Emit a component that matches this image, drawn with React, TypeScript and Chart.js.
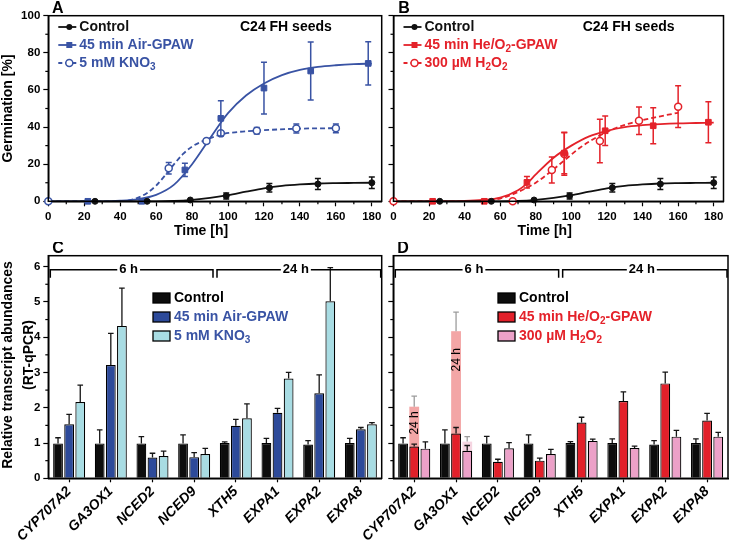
import React, { useEffect, useRef } from 'react';
import { Chart, registerables } from 'chart.js';

Chart.register(...registerables);

const FONT = "'Liberation Sans', Arial, Helvetica, sans-serif";
const INK = '#111111';
const BLUE = '#3953a4';
const RED = '#e4222a';
const BAR_BLACK = '#0d0d0d';
const BAR_BLUE = '#2d4a9a';
const BAR_CYAN = '#a8dce3';
const BAR_RED = '#e2202a';
const BAR_PINK = '#eca1c8';

// ---------------- Panels A / B : germination time course ----------------
const controlTime = [26, 55, 79, 99, 123, 150, 180];
const controlGerm = [0, 0, 0.7, 2.9, 7.3, 9.3, 10.0];
const controlErr = [0, 0, 0, 1.6, 2.3, 3.0, 3.1];
const controlFitTime = [0, 20, 40, 60, 70, 80, 90, 100, 110, 120, 130, 140, 150, 160, 170, 180];
const controlFitGerm = [0, 0, 0, 0, 0.2, 0.8, 1.8, 3.3, 5.2, 7.0, 8.3, 9.1, 9.6, 9.8, 9.9, 10.0];

const airTime = [22, 52, 76, 96, 120, 146, 178];
const airGerm = [0, 0, 16.9, 44.7, 61.0, 70.2, 74.3];
const airErr = [0, 0, 3.6, 9.5, 13.9, 15.6, 11.7];
const airFitTime = [0, 20, 30, 40, 50, 60, 70, 80, 90, 100, 110, 120, 130, 140, 150, 160, 170, 180];
const airFitGerm = [0, 0, 0, 0.3, 1.2, 3.5, 9, 20, 34, 47.5, 57, 63.5, 68, 70.8, 72.4, 73.3, 73.9, 74.2];

const kno3Time = [0, 67, 88, 96, 116, 138, 160];
const kno3Germ = [0, 17.8, 32.5, 36.6, 38.0, 39.2, 39.3];
const kno3Err = [0, 3.1, 1.0, 1.0, 1.8, 2.4, 2.3];
const kno3FitTime = [0, 20, 40, 45, 50, 55, 60, 65, 70, 75, 80, 85, 90, 96, 105, 116, 138, 160];
const kno3FitGerm = [0, 0, 0, 0.5, 2, 4.5, 8.5, 14, 20, 25.5, 29.5, 32, 34, 36, 37.3, 38.1, 39.1, 39.4];

const heTime = [22, 51, 75, 96, 119, 146, 177];
const heGerm = [0, 0, 10.2, 26.0, 38.0, 40.7, 42.6];
const heErr = [0, 0, 3.1, 11.2, 8.0, 9.7, 11.0];
const heFitTime = [0, 20, 40, 50, 60, 70, 75, 80, 90, 100, 110, 120, 130, 140, 150, 160, 170, 180];
const heFitGerm = [0, 0, 0.2, 0.7, 2, 6, 9.5, 14.5, 23.5, 30, 35, 38, 40, 41, 41.6, 42, 42.2, 42.4];

const h2o2Time = [0, 67, 89, 96, 116, 138, 160];
const h2o2Germ = [0, 0, 16.9, 25.5, 32.5, 43.4, 51.0];
const h2o2Err = [0, 0, 7.0, 11.4, 11.7, 7.4, 11.3];
const h2o2FitTime = [0, 40, 50, 60, 70, 80, 89, 96, 105, 116, 125, 138, 150, 160];
const h2o2FitGerm = [0, 0, 0.3, 1.5, 5, 10, 16.5, 22, 29, 35.5, 39.5, 43.3, 45.8, 47.7];

const labelsA = ['Control', '45 min Air-GPAW', '5 mM KNO_3'];
const labelsB = ['Control', '45 min He/O_2-GPAW', '300 µM H_2O_2'];
const seedText = 'C24 FH seeds';
const timeTitle = 'Time [h]';
const germTitle = 'Germination [%]';

// ---------------- Panels C / D : transcript abundances ----------------
const genes = ['CYP707A2', 'GA3OX1', 'NCED2', 'NCED9', 'XTH5', 'EXPA1', 'EXPA2', 'EXPA8'];
const cControl = [0.99, 0.99, 0.99, 0.99, 1.0, 1.0, 0.96, 1.0];
const cControlErr = [0.16, 0.38, 0.19, 0.24, 0.03, 0.13, 0.11, 0.13];
const cAir = [1.53, 3.21, 0.59, 0.6, 1.49, 1.86, 2.41, 1.39];
const cAirErr = [0.28, 0.9, 0.12, 0.13, 0.18, 0.12, 0.52, 0.05];
const cKno3 = [2.16, 4.32, 0.63, 0.69, 1.7, 2.83, 5.02, 1.53];
const cKno3Err = [0.48, 1.07, 0.14, 0.16, 0.41, 0.17, 0.95, 0.05];

const dControl = [0.99, 0.99, 0.99, 0.99, 1.0, 1.0, 0.96, 1.0];
const dControlErr = [0.16, 0.38, 0.2, 0.24, 0.04, 0.12, 0.11, 0.12];
const dHe = [0.9, 1.27, 0.47, 0.5, 1.58, 2.19, 2.69, 1.64];
const dHeErr = [0.07, 0.17, 0.07, 0.07, 0.15, 0.26, 0.32, 0.2];
const dH2o2 = [0.84, 0.78, 0.85, 0.69, 1.06, 0.86, 1.18, 1.18];
const dH2o2Err = [0.19, 0.15, 0.16, 0.13, 0.05, 0.05, 0.18, 0.12];
// 24 h values shown as pale bars behind the 6 h bars
const dHe24 = [2.03, 4.17, null, null, null, null, null, null];
const dHe24Err = [0.3, 0.54, null, null, null, null, null, null];
const dH2o224 = [null, 1.04, null, null, null, null, null, null];
const dH2o224Err = [null, 0.14, null, null, null, null, null, null];

const labelsC = ['Control', '45 min Air-GPAW', '5 mM KNO_3'];
const labelsD = ['Control', '45 min He/O_2-GPAW', '300 µM H_2O_2'];
const periodLabels = ['6 h', '24 h'];
const tag24 = '24 h';
const abundTitle = ['Relative transcript abundances', '(RT-qPCR)'];

// ---------------- helpers ----------------
type Seg = { t: string; sub: boolean };
function rich(s: string): Seg[] {
  const out: Seg[] = [];
  let buf = '';
  for (let i = 0; i < s.length; i++) {
    if (s[i] === '_' && i + 1 < s.length) {
      if (buf) out.push({ t: buf, sub: false });
      buf = '';
      out.push({ t: s[i + 1], sub: true });
      i++;
    } else buf += s[i];
  }
  if (buf) out.push({ t: buf, sub: false });
  return out;
}

function drawRich(ctx: CanvasRenderingContext2D, s: string, x: number, y: number, size: number, color: string) {
  let cx = x;
  ctx.save();
  ctx.fillStyle = color;
  ctx.textAlign = 'left';
  ctx.textBaseline = 'middle';
  for (const g of rich(s)) {
    const fs = g.sub ? Math.round(size * 0.72) : size;
    ctx.font = `bold ${fs}px ${FONT}`;
    ctx.fillText(g.t, cx, g.sub ? y + size * 0.3 : y);
    cx += ctx.measureText(g.t).width;
  }
  ctx.restore();
}

function drawText(
  ctx: CanvasRenderingContext2D,
  s: string,
  x: number,
  y: number,
  o: { size?: number; weight?: string; color?: string; align?: CanvasTextAlign; rot?: number } = {}
) {
  ctx.save();
  ctx.translate(x, y);
  if (o.rot) ctx.rotate(o.rot);
  ctx.font = `${o.weight ?? 'bold'} ${o.size ?? 14}px ${FONT}`;
  ctx.fillStyle = o.color ?? '#000';
  ctx.textAlign = o.align ?? 'left';
  ctx.textBaseline = 'middle';
  ctx.fillText(s, 0, 0);
  ctx.restore();
}

function pts(xs: number[], ys: number[]) {
  return xs.map((x, i) => ({ x, y: ys[i] }));
}

const tickFont = { family: FONT, size: 11.5, weight: 'bold' as const };

function framePlugin(minorX: number | null, majorX: number, minorY: number, majorY: number) {
  return {
    id: 'frameMinor',
    afterDraw(chart: any) {
      const { ctx, chartArea: a } = chart;
      ctx.save();
      ctx.strokeStyle = '#000';
      ctx.lineWidth = 1.5;
      ctx.strokeRect(a.left, a.top, a.right - a.left, a.bottom - a.top);
      ctx.lineWidth = 1.2;
      const isMajor = (v: number, m: number) => Math.abs(v / m - Math.round(v / m)) < 1e-6;
      if (minorX) {
        const s = chart.scales.x;
        for (let v = s.min + minorX; v <= s.max + 1e-9; v += minorX) {
          if (isMajor(v, majorX)) continue;
          const px = s.getPixelForValue(v);
          ctx.beginPath();
          ctx.moveTo(px, a.bottom);
          ctx.lineTo(px, a.bottom + 3);
          ctx.stroke();
        }
      }
      const sy = chart.scales.y;
      for (let v = sy.min + minorY; v <= sy.max + 1e-9; v += minorY) {
        if (isMajor(v, majorY)) continue;
        const py = sy.getPixelForValue(v);
        ctx.beginPath();
        ctx.moveTo(a.left, py);
        ctx.lineTo(a.left - 3, py);
        ctx.stroke();
      }
      ctx.restore();
    },
  };
}

const xyErrorPlugin = {
  id: 'xyErrors',
  beforeDatasetDraw(chart: any, args: any) {
    const ds: any = chart.data.datasets[args.index];
    if (!ds.errors) return;
    const ys = chart.scales.y;
    const ctx = chart.ctx;
    ctx.save();
    ctx.strokeStyle = ds.borderColor;
    ctx.lineWidth = 1.5;
    args.meta.data.forEach((el: any, i: number) => {
      const e = ds.errors[i];
      if (!e) return;
      const v = ds.data[i].y;
      const t = ys.getPixelForValue(v + e);
      const b = ys.getPixelForValue(v - e);
      ctx.beginPath();
      ctx.moveTo(el.x, t);
      ctx.lineTo(el.x, b);
      ctx.moveTo(el.x - 3, t);
      ctx.lineTo(el.x + 3, t);
      ctx.moveTo(el.x - 3, b);
      ctx.lineTo(el.x + 3, b);
      ctx.stroke();
    });
    ctx.restore();
  },
};

function drawLineKey(ctx: CanvasRenderingContext2D, x0: number, y: number, color: string, kind: string, dashed: boolean) {
  ctx.save();
  ctx.strokeStyle = color;
  ctx.lineWidth = 1.8;
  if (dashed) ctx.setLineDash([4, 3]);
  ctx.beginPath();
  ctx.moveTo(x0 + 10, y);
  ctx.lineTo(x0 + 28, y);
  ctx.stroke();
  ctx.setLineDash([]);
  const mx = x0 + 21;
  if (kind === 'dot') {
    ctx.fillStyle = color;
    ctx.beginPath();
    ctx.arc(mx, y, 3, 0, Math.PI * 2);
    ctx.fill();
  } else if (kind === 'square') {
    ctx.fillStyle = color;
    ctx.fillRect(mx - 3, y - 3, 6, 6);
  } else {
    ctx.fillStyle = '#fff';
    ctx.lineWidth = 1.5;
    ctx.beginPath();
    ctx.arc(mx, y, 3.5, 0, Math.PI * 2);
    ctx.fill();
    ctx.stroke();
  }
  ctx.restore();
}

function lineConfig(panel: 'A' | 'B') {
  const isA = panel === 'A';
  const col = isA ? BLUE : RED;
  const labels = isA ? labelsA : labelsB;
  const tT = isA ? airTime : heTime;
  const tG = isA ? airGerm : heGerm;
  const tE = isA ? airErr : heErr;
  const tFT = isA ? airFitTime : heFitTime;
  const tFG = isA ? airFitGerm : heFitGerm;
  const rT = isA ? kno3Time : h2o2Time;
  const rG = isA ? kno3Germ : h2o2Germ;
  const rE = isA ? kno3Err : h2o2Err;
  const rFT = isA ? kno3FitTime : h2o2FitTime;
  const rFG = isA ? kno3FitGerm : h2o2FitGerm;
  const yWidth = isA ? 48.3 : 5.3;

  const decor = {
    id: 'decorLine',
    afterDraw(chart: any) {
      const { ctx, chartArea: a } = chart;
      drawText(ctx, panel, isA ? 52 : 10.3, 8.5, { size: 16 });
      drawText(ctx, timeTitle, chart.scales.x.getPixelForValue(85), 231.5, { size: 14, align: 'center' });
      if (isA) drawText(ctx, germTitle, 8, 108.5, { size: 14, align: 'center', rot: -Math.PI / 2 });
      drawText(ctx, seedText, isA ? 240 : 194.7, 27, { size: 14 });
      const kinds = ['dot', 'square', 'open'];
      labels.forEach((lb, i) => {
        const y = 27 + i * 18;
        const c = i === 0 ? INK : col;
        drawLineKey(ctx, a.left, y, c, kinds[i], i === 2);
        drawRich(ctx, lb, a.left + 31, y, 14, c);
      });
    },
  };

  const fitBase = { showLine: true, pointRadius: 0, borderWidth: 1.8, cubicInterpolationMode: 'monotone', fill: false, order: 1 };
  return {
    type: 'scatter',
    data: {
      datasets: [
        { label: labels[0], data: pts(controlTime, controlGerm), errors: controlErr, borderColor: INK, backgroundColor: INK, pointStyle: 'circle', pointRadius: 3, borderWidth: 1, order: 0, clip: false },
        { label: labels[1], data: pts(tT, tG), errors: tE, borderColor: col, backgroundColor: col, pointStyle: 'rect', pointRadius: 4, borderWidth: 1, order: 0, clip: false },
        { label: labels[2], data: pts(rT, rG), errors: rE, borderColor: col, backgroundColor: '#ffffff', pointStyle: 'circle', pointRadius: 3.5, borderWidth: 1.5, order: 0, clip: false },
        { ...fitBase, data: pts(controlFitTime, controlFitGerm), borderColor: INK },
        { ...fitBase, data: pts(tFT, tFG), borderColor: col },
        { ...fitBase, data: pts(rFT, rFG), borderColor: col, borderDash: [5, 3] },
      ],
    },
    options: {
      responsive: false,
      animation: false,
      devicePixelRatio: 1,
      events: [],
      layout: { padding: { left: 0, right: isA ? 6.3 : 1.4, top: 15.7, bottom: 0 } },
      plugins: { legend: { display: false }, tooltip: { enabled: false } },
      scales: {
        x: {
          type: 'linear',
          min: 0,
          max: 185.5,
          ticks: { stepSize: 20, includeBounds: false, font: tickFont, color: '#000', padding: 4, maxRotation: 0, autoSkip: false },
          grid: { drawOnChartArea: false, drawTicks: true, tickLength: 5, color: '#000', tickWidth: 1.2 },
          border: { color: '#000', width: 1.5 },
          afterFit: (s: any) => {
            s.height = 242 - 201.3;
            s.paddingLeft = 0;
            s.paddingRight = 0;
          },
        },
        y: {
          type: 'linear',
          min: 0,
          max: 100,
          ticks: { stepSize: 20, font: tickFont, color: '#000', padding: 3, callback: (v: any) => (isA ? String(v) : '') },
          grid: { drawOnChartArea: false, drawTicks: true, tickLength: 5, color: '#000', tickWidth: 1.2 },
          border: { color: '#000', width: 1.5 },
          afterFit: (s: any) => {
            s.width = yWidth;
            s.paddingTop = 0;
            s.paddingBottom = 0;
          },
        },
      },
    },
    plugins: [framePlugin(10, 20, 10, 20), xyErrorPlugin, decor],
  };
}

function barConfig(panel: 'C' | 'D', canvasLeft: number) {
  const isC = panel === 'C';
  const labels = isC ? labelsC : labelsD;
  const sets = isC
    ? [
        { v: cControl, e: cControlErr, c: BAR_BLACK },
        { v: cAir, e: cAirErr, c: BAR_BLUE },
        { v: cKno3, e: cKno3Err, c: BAR_CYAN },
      ]
    : [
        { v: dControl, e: dControlErr, c: BAR_BLACK },
        { v: dHe, e: dHeErr, c: BAR_RED },
        { v: dH2o2, e: dH2o2Err, c: BAR_PINK },
      ];
  const textCol = isC ? BLUE : RED;
  const plotLeft = isC ? 48.3 : 393.3;

  const overlays = isC
    ? []
    : [
        { ds: 1, v: dHe24, e: dHe24Err, fill: 'rgba(239,132,132,0.72)', tagAt: [1.57, 3.36] },
        { ds: 2, v: dH2o224, e: dH2o224Err, fill: 'rgba(238,185,205,0.6)', tagAt: null as any },
      ];

  const overlayPlugin = {
    id: 'overlay24',
    beforeDatasetsDraw(chart: any) {
      const ctx = chart.ctx;
      const ys = chart.scales.y;
      overlays.forEach((o) => {
        const meta = chart.getDatasetMeta(o.ds);
        meta.data.forEach((el: any, i: number) => {
          const v = o.v[i];
          if (v == null) return;
          const top = ys.getPixelForValue(v);
          const base = ys.getPixelForValue(0);
          ctx.save();
          ctx.fillStyle = o.fill;
          ctx.fillRect(el.x - el.width / 2, top, el.width, base - top);
          const e = o.e[i];
          if (e) {
            const et = ys.getPixelForValue(v + e);
            ctx.strokeStyle = '#9c9c9c';
            ctx.lineWidth = 1.3;
            ctx.beginPath();
            ctx.moveTo(el.x, top);
            ctx.lineTo(el.x, et);
            ctx.moveTo(el.x - 2.8, et);
            ctx.lineTo(el.x + 2.8, et);
            ctx.stroke();
          }
          ctx.restore();
        });
      });
    },
    afterDatasetsDraw(chart: any) {
      const ctx = chart.ctx;
      const ys = chart.scales.y;
      overlays.forEach((o) => {
        if (!o.tagAt) return;
        const meta = chart.getDatasetMeta(o.ds);
        meta.data.forEach((el: any, i: number) => {
          if (o.v[i] == null || o.tagAt[i] == null) return;
          drawText(ctx, tag24, el.x + 0.5, ys.getPixelForValue(o.tagAt[i]), { size: 12, weight: 'normal', align: 'center', rot: -Math.PI / 2 });
        });
      });
    },
  };

  const barErrorPlugin = {
    id: 'barErrors',
    afterDatasetsDraw(chart: any) {
      const ctx = chart.ctx;
      const ys = chart.scales.y;
      chart.data.datasets.forEach((ds: any, di: number) => {
        if (!ds.errors) return;
        const meta = chart.getDatasetMeta(di);
        meta.data.forEach((el: any, i: number) => {
          const v = ds.data[i];
          const e = ds.errors[i];
          if (v == null || !e) return;
          const t = ys.getPixelForValue(v + e);
          ctx.save();
          ctx.strokeStyle = '#151515';
          ctx.lineWidth = 1.3;
          ctx.beginPath();
          ctx.moveTo(el.x, el.y);
          ctx.lineTo(el.x, t);
          ctx.moveTo(el.x - 2.8, t);
          ctx.lineTo(el.x + 2.8, t);
          ctx.stroke();
          ctx.restore();
        });
      });
    },
  };

  const decor = {
    id: 'decorBar',
    afterDraw(chart: any) {
      const { ctx, chartArea: a } = chart;
      drawText(ctx, panel, a.left + 4, 7, { size: 16 });
      if (isC) {
        drawText(ctx, abundTitle[0], 8.5, 123, { size: 14, align: 'center', rot: -Math.PI / 2 });
        drawText(ctx, abundTitle[1], 29, 113, { size: 14, align: 'center', rot: -Math.PI / 2 });
      }
      // brackets for sampling time
      const n = genes.length;
      const cw = (a.right - a.left) / n;
      const mid = a.left + (n / 2) * cw;
      const y = a.top + 14;
      const groups = [
        { lb: periodLabels[0], from: a.left + 2, to: mid - 2 },
        { lb: periodLabels[1], from: mid + 2, to: a.right - 1 },
      ];
      ctx.save();
      ctx.strokeStyle = '#000';
      ctx.lineWidth = 1.5;
      ctx.font = `bold 13px ${FONT}`;
      groups.forEach((g) => {
        const cx = (g.from + g.to) / 2 - 3;
        const w = ctx.measureText(g.lb).width;
        ctx.beginPath();
        ctx.moveTo(g.from, y + 8);
        ctx.lineTo(g.from, y);
        ctx.lineTo(cx - w / 2 - 2, y);
        ctx.moveTo(cx + w / 2 + 2, y);
        ctx.lineTo(g.to, y);
        ctx.lineTo(g.to, y + 8);
        ctx.stroke();
        drawText(ctx, g.lb, cx, y, { size: 13, align: 'center' });
      });
      ctx.restore();
      // legend
      const sx = a.left + 104.7;
      labels.forEach((lb, i) => {
        const ry = 56 + i * 19;
        ctx.save();
        ctx.fillStyle = sets[i].c;
        ctx.fillRect(sx, ry - 5, 17, 10);
        ctx.strokeStyle = '#000';
        ctx.lineWidth = 1.3;
        ctx.strokeRect(sx, ry - 5, 17, 10);
        ctx.restore();
        drawRich(ctx, lb, sx + 21, ry, 14, i === 0 ? '#000' : textCol);
      });
    },
  };

  return {
    type: 'bar',
    data: {
      labels: genes,
      datasets: sets.map((s, i) => ({
        label: labels[i],
        data: s.v,
        errors: s.e,
        backgroundColor: s.c,
        borderColor: '#000',
        borderWidth: 1.2,
        categoryPercentage: 0.8,
        barPercentage: 0.88,
      })),
    },
    options: {
      responsive: false,
      animation: false,
      devicePixelRatio: 1,
      events: [],
      layout: { padding: { left: 0, right: isC ? 6.3 : 1, top: 13.7, bottom: 0 } },
      plugins: { legend: { display: false }, tooltip: { enabled: false } },
      scales: {
        x: {
          grid: { offset: false, drawOnChartArea: false, drawTicks: true, tickLength: 4, color: '#000', tickWidth: 1.2 },
          border: { color: '#000', width: 1.5 },
          ticks: {
            font: { family: FONT, size: 14, weight: 'bold', style: 'italic' },
            color: '#000',
            minRotation: 45,
            maxRotation: 45,
            autoSkip: false,
            padding: 1,
          },
          afterFit: (s: any) => {
            s.height = 63.7;
            s.paddingLeft = 0;
            s.paddingRight = 0;
          },
        },
        y: {
          min: 0,
          max: 6.31,
          ticks: { stepSize: 1, includeBounds: false, font: tickFont, color: '#000', padding: 3, callback: (v: any) => (isC ? String(v) : '') },
          grid: { drawOnChartArea: false, drawTicks: true, tickLength: 5, color: '#000', tickWidth: 1.2 },
          border: { color: '#000', width: 1.5 },
          afterFit: (s: any) => {
            s.width = plotLeft - canvasLeft;
            s.paddingTop = 0;
            s.paddingBottom = 0;
          },
        },
      },
    },
    plugins: [overlayPlugin, framePlugin(null, 1, 0.5, 1), barErrorPlugin, decor],
  };
}

function ChartCanvas({ make, left, top, width, height }: { make: () => any; left: number; top: number; width: number; height: number }) {
  const ref = useRef<HTMLCanvasElement>(null);
  useEffect(() => {
    const chart = new Chart(ref.current as HTMLCanvasElement, make());
    return () => chart.destroy();
  }, []);
  return (
    <canvas
      ref={ref}
      width={width}
      height={height}
      style={{ position: 'absolute', left, top, width, height, display: 'block' }}
    />
  );
}

export default function App() {
  return (
    <div style={{ position: 'absolute', left: 0, top: 0, width: 729, height: 542, background: '#fff', overflow: 'hidden' }}>
      <ChartCanvas make={() => lineConfig('A')} left={0} top={0} width={388} height={242} />
      <ChartCanvas make={() => lineConfig('B')} left={388} top={0} width={341} height={242} />
      <ChartCanvas make={() => barConfig('C', 0)} left={0} top={242} width={388} height={300} />
      <ChartCanvas make={() => barConfig('D', 330)} left={330} top={242} width={399} height={300} />
    </div>
  );
}
